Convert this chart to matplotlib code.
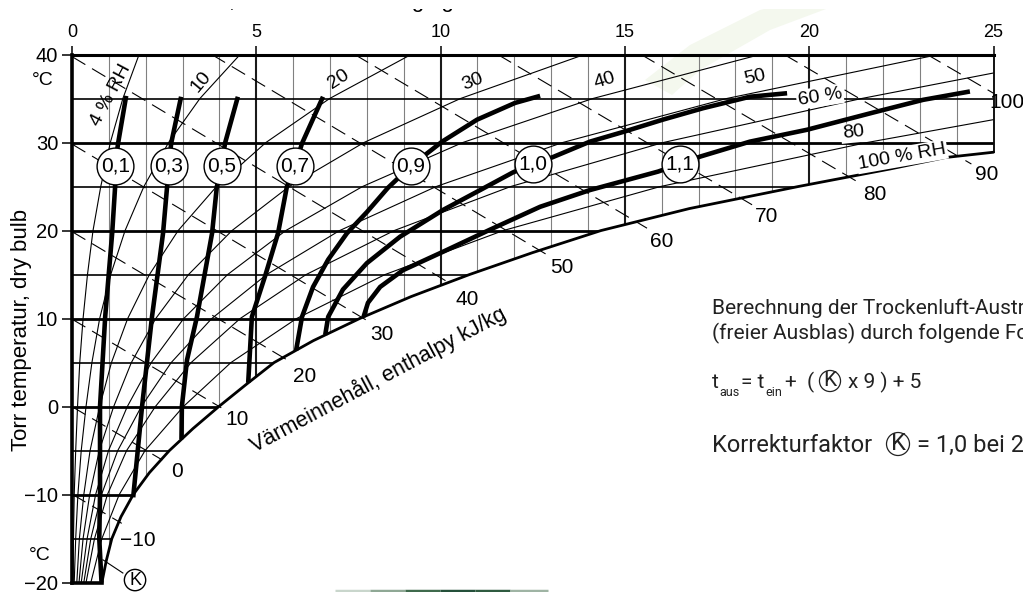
import matplotlib.pyplot as plt
from matplotlib.patches import Polygon, Rectangle
from matplotlib.collections import LineCollection

W, H = 1023, 592
plt.rcParams['font.family'] = ['Liberation Sans', 'DejaVu Sans']

# ---- scales ---------------------------------------------------------------
x_ticks = [0, 5, 10, 15, 20, 25]                      # moisture content g/kg
x_labels = ['0', '5', '10', '15', '20', '25']
t_ticks = [-20, -10, 0, 10, 20, 30, 40]               # dry bulb deg C
t_labels = ['\u221220', '\u221210', '0', '10', '20', '30', '40']
x_grid = list(range(1, 25))
t_grid = list(range(-15, 40, 5))

# ---- saturation curve (100 % RH) ------------------------------------------
sat_t = [-20, -17.5, -15, -12.5, -10, -7.5, -5, -2.5, 0, 2.5, 5, 7.5, 10,
         12.5, 15, 17.5, 20, 22.5, 25, 27, 28.3, 28.9]
sat_x = [0.81, 0.93, 1.08, 1.33, 1.66, 2.10, 2.64, 3.28, 3.98, 4.72, 5.48,
         6.55, 7.80, 9.20, 10.78, 12.50, 14.35, 16.75, 19.70, 22.20, 23.70, 25.0]

# ---- relative humidity curves ---------------------------------------------
rh_t = [-20, -15, -10, -5, 0, 5, 10, 15, 20, 25, 30, 35, 40]
rh04_x = [0.03, 0.04, 0.06, 0.10, 0.15, 0.21, 0.30, 0.42, 0.57, 0.78, 1.04, 1.38, 1.82]
rh10_x = [0.06, 0.10, 0.16, 0.25, 0.38, 0.54, 0.75, 1.05, 1.44, 1.95, 2.62, 3.47, 4.56]
rh20_x = [0.13, 0.20, 0.32, 0.49, 0.75, 1.07, 1.51, 2.10, 2.88, 3.92, 5.26, 6.99, 9.20]
rh30_x = [0.19, 0.30, 0.48, 0.74, 1.13, 1.61, 2.27, 3.16, 4.34, 5.89, 7.92, 10.54, 13.90]
rh40_x = [0.25, 0.41, 0.64, 0.99, 1.50, 2.15, 3.03, 4.22, 5.80, 7.88, 10.60, 14.13, 18.67]
rh50_x = [0.32, 0.51, 0.80, 1.24, 1.88, 2.69, 3.79, 5.28, 7.26, 9.88, 13.31, 17.76, 23.51]
rh60_x = [0.38, 0.61, 0.96, 1.48, 2.26, 3.23, 4.56, 6.35, 8.74, 11.90, 16.04, 21.42, 25.0]
rh60_t = [-20, -15, -10, -5, 0, 5, 10, 15, 20, 25, 30, 35, 37.9]
rh80_x = [0.51, 0.81, 1.28, 1.98, 3.02, 4.31, 6.09, 8.49, 11.70, 15.96, 21.57, 25.0]
rh80_t = [-20, -15, -10, -5, 0, 5, 10, 15, 20, 25, 30, 32.6]

# ---- enthalpy lines, kJ/kg (start / end points) ----------------------------
h_vals = [-10, 0, 10, 20, 30, 40, 50, 60, 70, 80, 90, 100]
h_x0 = [0, 0, 0, 0, 0, 0, 3.79, 7.67, 11.55, 15.44, 19.32, 23.20]
h_t0 = [-9.94, 0, 9.94, 19.88, 29.82, 39.76, 40, 40, 40, 40, 40, 40]
h_x1 = [1.35, 2.45, 4.05, 5.90, 8.00, 10.30, 12.90, 15.60, 18.45, 21.40, 24.40, 25.0]
h_t1 = [-13.26, -6.06, -0.13, 5.15, 9.79, 13.89, 17.22, 20.27, 22.93, 25.32, 27.56, 35.6]
h_lab_x = [1.79, 2.85, 4.48, 6.32, 8.41, 10.72, 13.29, 16.01, 18.85, 21.78, 24.82, 25.37]
h_lab_t = [-15.15, -7.42, -1.51, 3.37, 8.15, 12.12, 15.76, 18.72, 21.56, 24.06, 26.33, 34.5]

# ---- correction factor K curves -------------------------------------------
k_names = ['0,1', '0,3', '0,5', '0,7', '0,9', '1,0', '1,1']
k01_x = [1.47, 1.25, 1.17, 1.17, 1.09, 0.90, 0.76, 0.76, 0.74, 0.80]
k01_t = [35.3, 29.9, 27.35, 25.0, 19.7, 10.2, 0.0, -10.0, -15.0, -19.9]
k03_x = [2.96, 2.69, 2.63, 2.58, 2.47, 2.17, 1.90, 1.66]
k03_t = [35.2, 29.9, 27.35, 25.0, 19.7, 10.2, 0.0, -10.3]
k05_x = [4.50, 4.15, 4.07, 3.93, 3.80, 3.39, 3.12, 2.98, 2.97]
k05_t = [35.2, 29.9, 27.35, 25.0, 19.7, 10.2, 5.3, 0.0, -3.7]
k07_x = [6.81, 6.24, 6.05, 5.83, 5.59, 5.24, 4.88, 4.78]
k07_t = [35.2, 29.9, 27.35, 25.0, 19.7, 14.85, 10.2, 2.7]
k09_x = [12.70, 12.02, 10.99, 10.04, 9.20, 8.57, 8.00, 7.46, 6.95, 6.54, 6.24, 6.08]
k09_t = [35.3, 34.5, 32.6, 30.1, 27.35, 24.85, 22.1, 19.7, 16.7, 13.6, 10.2, 6.4]
k10_x = [19.40, 18.39, 17.12, 16.03, 14.95, 14.05, 13.02, 12.51, 11.96, 11.34,
         10.07, 8.90, 8.00, 7.35, 6.95, 6.87]
k10_t = [35.6, 35.2, 33.9, 32.6, 31.2, 30.1, 28.3, 27.58, 26.6, 25.2,
         22.35, 19.3, 16.3, 13.3, 10.2, 8.15]
k11_x = [24.36, 23.09, 21.73, 19.94, 18.39, 17.04, 16.50, 15.90, 14.05, 12.70,
         11.34, 10.07, 8.98, 8.36, 8.03, 7.91]
k11_t = [35.8, 34.85, 33.4, 31.45, 30.1, 28.4, 27.58, 26.7, 24.6, 22.7,
         20.1, 17.6, 15.5, 13.6, 11.8, 10.2]
k_circle_x = [1.17, 2.63, 4.07, 6.05, 9.20, 12.51, 16.50]
k_circle_t = [27.35, 27.35, 27.35, 27.35, 27.35, 27.58, 27.58]


fig = plt.figure(figsize=(W / 100, H / 100), dpi=100)
fig.patch.set_facecolor('white')

# faint background decoration
leaf = [(645, 80), (690, 45), (760, 10), (800, 0), (850, 0), (770, 30), (700, 70), (672, 95)]
fig.add_artist(Polygon([(a / W, 1 - b / H) for a, b in leaf], closed=True,
                       transform=fig.transFigure, fc='#f4f8ee', ec='none', zorder=-5))

ax = fig.add_axes([72 / W, 1 - 582.7 / H, (993.5 - 72) / W, (582.7 - 54.5) / H])
ax.set_xlim(0, 25)
ax.set_ylim(-20, 40)
ax.patch.set_alpha(0)
for s in ax.spines.values():
    s.set_visible(False)
ax.set_xticks(x_ticks)
ax.set_xticklabels(x_labels)
ax.set_yticks(t_ticks)
ax.set_yticklabels(t_labels)
ax.tick_params(axis='x', top=True, bottom=False, labeltop=True, labelbottom=False,
               length=6.5, width=1.1, pad=3, labelsize=13)
ax.tick_params(axis='y', length=7, width=1.1, pad=3, labelsize=14.5)

# region inside the chart (used to clip grid and RH curves)
clip = Polygon(list(zip([0, 0, 25, 25] + sat_x[::-1], [-20, 40, 40, 28.9] + sat_t[::-1])),
               closed=True, transform=ax.transData)

# grid
g = ax.vlines([v for v in x_grid if v % 5], -20, 40, colors='#808080', lw=0.8)
g.set_clip_path(clip)
g = ax.vlines([v for v in x_grid if v % 5 == 0], -20, 40, colors='#1a1a1a', lw=1.5)
g.set_clip_path(clip)
g = ax.hlines([v for v in t_grid if v % 10], 0, 25, colors='black', lw=1.2)
g.set_clip_path(clip)
g = ax.hlines([v for v in t_grid if v % 10 == 0], 0, 25, colors='black', lw=2.0)
g.set_clip_path(clip)

# RH curves
for xs, ts in [(rh04_x, rh_t), (rh10_x, rh_t), (rh20_x, rh_t), (rh30_x, rh_t),
               (rh40_x, rh_t), (rh50_x, rh_t), (rh60_x, rh60_t), (rh80_x, rh80_t)]:
    ln, = ax.plot(xs, ts, color='black', lw=0.8)
    ln.set_clip_path(clip)

# enthalpy lines
for i, h in enumerate(h_vals):
    ax.plot([h_x0[i], h_x1[i]], [h_t0[i], h_t1[i]], color='black', lw=0.8,
            ls=(0, (14, 7)), clip_on=False)
    lab = str(h).replace('-', '\u2212')
    ax.text(h_lab_x[i], h_lab_t[i], lab, fontsize=15, ha='center', va='center')

# frame and saturation curve
ax.plot([0, 25], [40, 40], color='black', lw=2.2, clip_on=False)
ax.plot([0, 0], [-20, 40], color='black', lw=2.6, clip_on=False)
ax.plot([0, sat_x[0]], [-20, -20], color='black', lw=2.6, clip_on=False)
ax.plot([25, 25], [28.9, 40], color='black', lw=1.3, clip_on=False)
ax.plot(sat_x, sat_t, color='black', lw=2.0, clip_on=False, solid_capstyle='round')

# K curves
for xs, ts in [(k01_x, k01_t), (k03_x, k03_t), (k05_x, k05_t), (k07_x, k07_t),
               (k09_x, k09_t), (k10_x, k10_t), (k11_x, k11_t)]:
    ax.plot(xs, ts, color='black', lw=3.3, zorder=4, solid_capstyle='butt')
ax.plot(k_circle_x, k_circle_t, 'o', ms=26.5, mfc='white', mec='black', mew=1.0,
        ls='none', zorder=5)
for name, cx, ct in zip(k_names, k_circle_x, k_circle_t):
    ax.text(cx, ct, name, fontsize=15, ha='center', va='center', zorder=6)

# RH labels
white = dict(fc='white', ec='none', pad=1)
ax.text(1.05, 35.4, '4 % RH', fontsize=14, rotation=62, ha='center', va='center')
ax.text(3.50, 36.9, '10', fontsize=14, rotation=50, ha='center', va='center')
ax.text(7.24, 37.2, '20', fontsize=14, rotation=33, ha='center', va='center')
ax.text(10.88, 36.9, '30', fontsize=14, rotation=22, ha='center', va='center')
ax.text(14.46, 37.1, '40', fontsize=14, rotation=17, ha='center', va='center')
ax.text(18.53, 37.35, '50', fontsize=14, rotation=12, ha='center', va='center')
ax.text(20.29, 35.2, '60 %', fontsize=14, rotation=9, ha='center', va='center', bbox=white)
ax.text(21.19, 31.1, '80', fontsize=14, rotation=6, ha='center', va='center', bbox=white)
ax.text(22.52, 28.4, '100 % RH', fontsize=14, rotation=10, ha='center', va='center', bbox=white)

# enthalpy axis title
ax.text(8.30, 3.03, 'V\u00e4rmeinneh\u00e5ll, enthalpy kJ/kg', fontsize=15.5, rotation=28,
        ha='center', va='center', rotation_mode='anchor')

# K marker at the bottom
ax.plot([0.84, 1.38], [-17.4, -18.9], color='black', lw=0.8)
ax.text(1.71, -19.7, 'K', fontsize=13, ha='center', va='center', zorder=6,
        bbox=dict(boxstyle='circle,pad=0.12', fc='white', ec='black', lw=1))

# unit labels
ax.text(-0.79, 37.1, '\u00b0C', fontsize=14, ha='center', va='center')
ax.text(-0.87, -16.9, '\u00b0C', fontsize=14, ha='center', va='center')
fig.text(22 / W, 1 - 330 / H, 'Torr temperatur, dry bulb', fontsize=16, rotation=90,
         ha='center', va='center')

# cut-off top title (only descenders visible)
fig.text(89 / W, 1 - 7 / H, 'Vatteninneh\u00e5ll, moisture content g/kg', fontsize=16,
         va='baseline', ha='left')
fig.add_artist(Rectangle((0, 1 - 8.5 / H), 1, 8.5 / H, transform=fig.transFigure,
                         fc='white', ec='none', zorder=10))

# description text on the right
rf = ['Roboto', 'DejaVu Sans']
tc = '#222222'
fig.text(712 / W, 1 - 314 / H, 'Berechnung der Trockenluft-Austrittstemperatur',
         family=rf, fontsize=15, color=tc, va='baseline')
fig.text(712 / W, 1 - 339 / H, '(freier Ausblas) durch folgende Formel:',
         family=rf, fontsize=15, color=tc, va='baseline')
fig.text(712 / W, 1 - 388 / H, 't', family=rf, fontsize=15, color=tc, va='baseline')
fig.text(719 / W, 1 - 396 / H, 'aus', family=rf, fontsize=9, color=tc, va='baseline')
fig.text(741 / W, 1 - 388 / H, '= t', family=rf, fontsize=15, color=tc, va='baseline')
fig.text(765 / W, 1 - 396 / H, 'ein', family=rf, fontsize=9, color=tc, va='baseline')
fig.text(785 / W, 1 - 388 / H, '+  (', family=rf, fontsize=15, color=tc, va='baseline')
fig.text(830 / W, 1 - 381 / H, 'K', family=rf, fontsize=15, color=tc, ha='center',
         va='center', bbox=dict(boxstyle='circle,pad=0.05', fc='white', ec=tc, lw=0.9))
fig.text(848 / W, 1 - 388 / H, 'x 9 ) + 5', family=rf, fontsize=15, color=tc,
         va='baseline')
fig.text(712 / W, 1 - 452 / H, 'Korrekturfaktor', family=rf, fontsize=17, color=tc,
         va='baseline')
fig.text(898 / W, 1 - 444 / H, 'K', family=rf, fontsize=17, color=tc, ha='center',
         va='center', bbox=dict(boxstyle='circle,pad=0.0', fc='white', ec=tc, lw=0.9))
fig.text(917 / W, 1 - 452 / H, '= 1,0 bei 20 \u00b0C', family=rf, fontsize=17,
         color=tc, va='baseline')

# green bar at the bottom edge
bx = [335, 370, 405, 440, 475, 510, 548]
cols = ['#c9d6cc', '#8fa895', '#3f6a4c', '#24503a', '#2f5b40', '#9fb4a4']
segs = [[(bx[i] / W, 1 - 590.5 / H), (bx[i + 1] / W, 1 - 590.5 / H)] for i in range(6)]
fig.add_artist(LineCollection(segs, colors=cols, linewidths=2.5, transform=fig.transFigure))

fig.savefig('out.png', dpi=100)
